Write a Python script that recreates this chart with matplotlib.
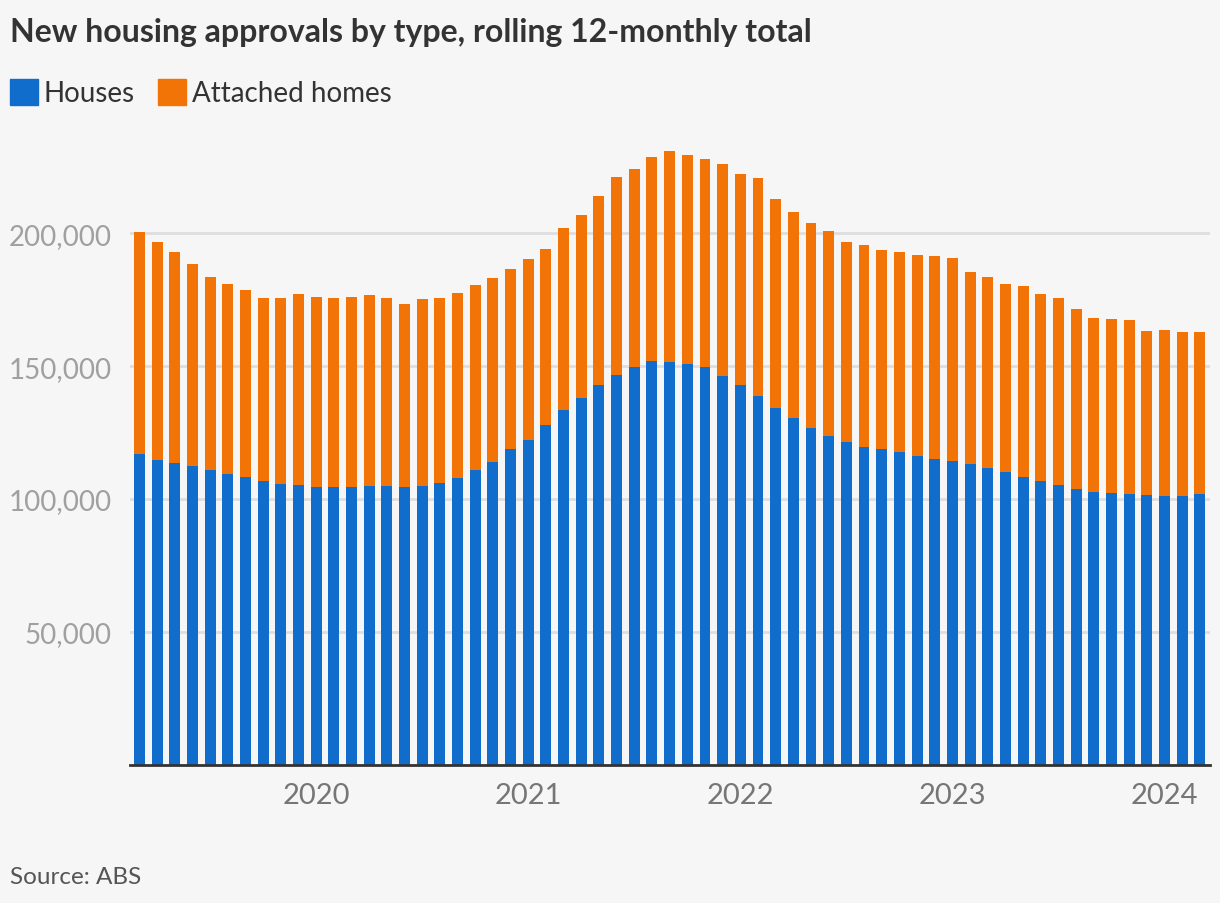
import numpy as np
import pandas as pd
from matplotlib import pyplot as plt
from matplotlib.patches import Rectangle

# rolling 12-month totals, Mar 2019 - Mar 2024 (thousands)
months = pd.date_range('2019-03-01', '2024-03-01', freq='MS')

total = [200.4, 196.6, 192.9, 188.3, 183.5, 180.8, 178.6, 175.6, 175.6, 177.1,
         176.0, 175.6, 176.0, 176.7, 175.6, 173.4, 175.2, 175.6, 177.4, 180.5,
         183.1, 186.5, 190.2, 194.0, 201.9, 206.8, 213.9, 221.1, 224.1, 228.6,
         230.8, 229.3, 227.8, 225.9, 222.2, 220.7, 212.8, 207.9, 203.8, 200.8,
         196.6, 195.5, 193.6, 192.9, 191.7, 191.4, 190.6, 185.3, 183.5, 180.8,
         180.1, 177.1, 175.6, 171.4, 168.0, 167.7, 167.3, 163.2, 163.5, 162.8,
         162.8]

houses = [116.9, 114.7, 113.5, 112.4, 110.9, 109.4, 108.3, 106.8, 105.6, 105.3,
          104.5, 104.5, 104.5, 104.9, 104.9, 104.5, 104.9, 106.0, 107.9, 110.9,
          113.9, 118.8, 122.2, 127.8, 133.5, 138.0, 142.9, 146.6, 149.6, 151.9,
          151.5, 150.8, 149.6, 146.2, 142.9, 138.7, 134.2, 130.5, 126.7, 123.7,
          121.4, 119.5, 118.8, 117.7, 116.2, 115.0, 114.3, 113.2, 111.7, 110.2,
          108.3, 106.8, 105.3, 103.8, 102.6, 102.3, 101.9, 101.5, 101.1, 101.1,
          101.9]

houses = np.array(houses) * 1000
attached = np.array(total) * 1000 - houses

year_ticks = [2020, 2021, 2022, 2023, 2024]

BLUE = '#116dcc'
ORANGE = '#f27406'
BG = '#f6f6f6'

plt.rcParams['font.family'] = ['Lato', 'DejaVu Sans']

fig = plt.figure(figsize=(12.2, 9.04), dpi=100, facecolor=BG)
ax = fig.add_axes([130 / 1220, 138 / 904, 1080 / 1220, 625 / 904])
ax.set_facecolor(BG)

x = np.arange(len(months))
ax.bar(x, houses, width=0.62, color=BLUE, zorder=2)
ax.bar(x, attached, width=0.62, bottom=houses, color=ORANGE, zorder=2)

ax.set_xlim(-0.54, len(months) - 1 + 0.58)
ax.set_ylim(0, 235000)

# year labels at each January
tick_pos = [list(months).index(pd.Timestamp(f'{y}-01-01')) for y in year_ticks]
ax.set_xticks(tick_pos)
ax.set_xticklabels([str(y) for y in year_ticks], fontsize=21, color='#767676')
ax.tick_params(axis='x', length=0, pad=12)

ax.set_yticks([50000, 100000, 150000, 200000])
ax.set_yticklabels([f'{v:,}' for v in [50000, 100000, 150000, 200000]],
                   fontsize=20, color='#a0a0a0')
ax.tick_params(axis='y', length=0, pad=13)
ax.grid(axis='y', color='#dedede', linewidth=2, zorder=0)

for s in ['top', 'right', 'left']:
    ax.spines[s].set_visible(False)
ax.spines['bottom'].set_color('#333333')
ax.spines['bottom'].set_linewidth(2)
ax.spines['bottom'].set_zorder(3)

# title, legend, source
fig.text(10 / 1220, 1 - 42 / 904, 'New housing approvals by type, rolling 12-monthly total',
         fontsize=23, fontweight='bold', color='#333333', va='baseline')

fig.patches.append(Rectangle((10 / 1220, 1 - 106 / 904), 28 / 1220, 26 / 904,
                             transform=fig.transFigure, color=BLUE))
fig.text(44 / 1220, 1 - 102 / 904, 'Houses', fontsize=20, color='#333333', va='baseline')
fig.patches.append(Rectangle((158 / 1220, 1 - 106 / 904), 28 / 1220, 26 / 904,
                             transform=fig.transFigure, color=ORANGE))
fig.text(192 / 1220, 1 - 102 / 904, 'Attached homes', fontsize=20, color='#333333', va='baseline')

fig.text(10 / 1220, 1 - 884 / 904, 'Source: ABS', fontsize=17.5, color='#555555', va='baseline')

plt.savefig('out.png', dpi=100, facecolor=BG)
